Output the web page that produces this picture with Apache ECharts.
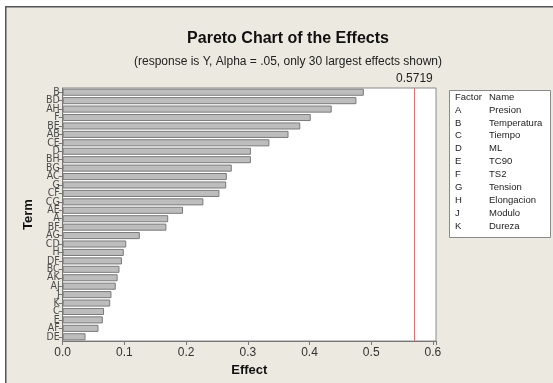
<!DOCTYPE html>
<html>
<head>
<meta charset="utf-8">
<script src="https://cdn.jsdelivr.net/npm/echarts@6/dist/echarts.min.js"></script>
<style>html,body{margin:0;padding:0;background:#fff;}#c{width:553px;height:383px;}</style>
</head>
<body>
<div id="c"></div>
<script>
const terms = ['B','BD','AH','F','BE','AB','CE','D','BH','BG','AC','G','CF','CG','AE','A','BF','AG','CD','H','DF','BC','AK','AJ','J','K','C','E','AF','DE'];
const effects = [0.488,0.476,0.436,0.402,0.385,0.366,0.335,0.305,0.305,0.274,0.266,0.265,0.254,0.228,0.195,0.171,0.168,0.125,0.103,0.099,0.096,0.092,0.089,0.086,0.079,0.077,0.067,0.065,0.058,0.037];
const xTicks = [0.0,0.1,0.2,0.3,0.4,0.5,0.6];
const critical = 0.5719;
const factors = ['A','B','C','D','E','F','G','H','J','K'];
const factorNames = ['Presion','Temperatura','Tiempo','ML','TC90','TS2','Tension','Elongacion','Modulo','Dureza'];

const chart = echarts.init(document.getElementById('c'), null, {renderer:'canvas'});
const FONT = '"Liberation Sans", Arial, sans-serif';
const LFONT = '9.5px ' + FONT;
const legendTexts = [];
legendTexts.push({type:'text', left:455, top:92, style:{text:'Factor', font:LFONT, fill:'#222'}});
legendTexts.push({type:'text', left:489, top:92, style:{text:'Name', font:LFONT, fill:'#222'}});
factors.forEach((f,i)=>{
  legendTexts.push({type:'text', left:455, top:105+i*12.9, style:{text:f, font:LFONT, fill:'#222'}});
  legendTexts.push({type:'text', left:489, top:105+i*12.9, style:{text:factorNames[i], font:LFONT, fill:'#222'}});
});

chart.setOption({
  animation:false,
  backgroundColor:'#ffffff',
  graphic:[
    {type:'rect', left:5, top:6, z:-10, shape:{width:548, height:377}, style:{fill:'#ECE9E1', stroke:'#555', lineWidth:1.5}},
    {type:'rect', left:449, top:90, shape:{width:101, height:147}, style:{fill:'#fff', stroke:'#8a8a8a', lineWidth:1}},
    ...legendTexts
  ],
  title:[
    {text:'Pareto Chart of the Effects', left:283, top:26, textAlign:'center',
     textStyle:{fontFamily:FONT, fontSize:16, fontWeight:'bold', color:'#111'}},
    {text:'(response is Y, Alpha = .05, only 30 largest effects shown)', left:283, top:51, textAlign:'center',
     textStyle:{fontFamily:FONT, fontSize:12, fontWeight:'normal', color:'#222'}}
  ],
  grid:{left:62.7, right:117, top:88, bottom:42, show:true, backgroundColor:'#fff', borderColor:'#8a8a8a', borderWidth:1},
  xAxis:{
    type:'value', min:0, max:0.605, interval:0.1,
    name:'Effect', nameLocation:'middle', nameGap:22,
    nameTextStyle:{fontFamily:FONT, fontSize:13, fontWeight:'bold', color:'#111'},
    axisLine:{show:true, lineStyle:{color:'#777'}},
    axisTick:{show:true, length:4, lineStyle:{color:'#777'}},
    splitLine:{show:false},
    axisLabel:{fontFamily:FONT, fontSize:12, color:'#333', margin:6,
      formatter:v=>{const t=xTicks.find(x=>Math.abs(x-v)<1e-6);return t===undefined?'':t.toFixed(1);}}
  },
  yAxis:{
    type:'category', data:terms, inverse:true,
    name:'Term', nameLocation:'middle', nameGap:25, nameRotate:90,
    nameTextStyle:{fontFamily:FONT, fontSize:13, fontWeight:'bold', color:'#111'},
    axisLine:{show:true, lineStyle:{color:'#777'}},
    axisTick:{show:true, length:4, alignWithLabel:true, lineStyle:{color:'#777'}},
    axisLabel:{fontFamily:'"Liberation Sans Narrow", "DejaVu Sans Condensed", '+FONT, fontSize:10.5, color:'#4a4a4a', margin:3, interval:0}
  },
  series:[{
    type:'bar', data:effects, barCategoryGap:'16%',
    itemStyle:{color:'#bdbdbd', borderColor:'#7a7a7a', borderWidth:1},
    markLine:{
      silent:true, symbol:'none',
      lineStyle:{color:'#e07070', type:'solid', width:1},
      label:{show:true, position:'start', formatter:'0.5719', fontFamily:FONT, fontSize:12, color:'#222', distance:3},
      data:[{xAxis:critical}]
    }
  }]
});
</script>
</body>
</html>
